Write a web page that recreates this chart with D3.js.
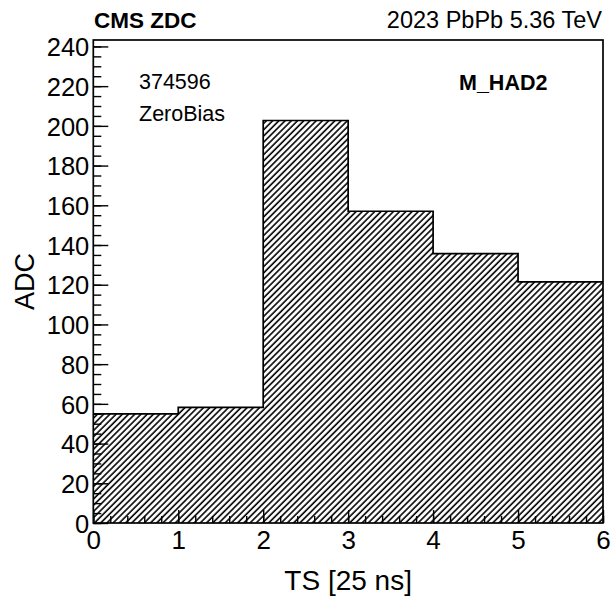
<!DOCTYPE html>
<html>
<head>
<meta charset="utf-8">
<script src="https://cdn.jsdelivr.net/npm/d3@7"></script>
<style>
  body { margin: 0; background: #fff; }
  svg text { font-family: "Liberation Sans", Arial, Helvetica, sans-serif; fill: #000; }
</style>
</head>
<body>
<svg id="chart" width="610" height="597"></svg>
<script>
// bin edges in TS units, and ADC content per bin
const binEdges = [0, 1, 2, 3, 4, 5, 6]
const adc = [55.0, 58.2, 202.7, 157.0, 135.7, 121.4]

const xTicks = [0, 1, 2, 3, 4, 5, 6]
const yTicks = [0, 20, 40, 60, 80, 100, 120, 140, 160, 180, 200, 220, 240]

const runNumber = "374596"
const trigger = "ZeroBias"
const channel = "M_HAD2"

let margin = {top: 40, right: 7, bottom: 74, left: 93.3}
const W = 610, H = 597

let svg = d3.select("#chart")

let x = d3.scaleLinear()
  .domain([0, 6])
  .range([margin.left, W - margin.right])

// ROOT-ish: max of the frame is 1.2 times the highest bin
let yMax = d3.max(adc) * 1.2
let y = d3.scaleLinear()
  .domain([0, yMax])
  .range([H - margin.bottom, margin.top])

// hatch pattern (ROOT fill style 3004)
svg.append("defs").append("pattern")
  .attr("id", "hatch")
  .attr("patternUnits", "userSpaceOnUse")
  .attr("width", 4.4)
  .attr("height", 10)
  .attr("patternTransform", "rotate(45)")
  .append("line")
  .attr("x1", 1).attr("y1", 0)
  .attr("x2", 1).attr("y2", 10)
  .attr("stroke", "#000")
  .attr("stroke-width", 1.6)

// histogram as a step area
let steps = []
adc.forEach((v, i) => {
  steps.push([binEdges[i], v])
  steps.push([binEdges[i + 1], v])
})

let area = d3.area()
  .x(d => x(d[0]))
  .y0(y(0))
  .y1(d => y(d[1]))

svg.append("path")
  .datum(steps)
  .attr("d", area)
  .attr("fill", "url(#hatch)")

let line = d3.line()
  .x(d => x(d[0]))
  .y(d => y(d[1]))

svg.append("path")
  .datum(steps)
  .attr("d", line)
  .attr("fill", "none")
  .attr("stroke", "#000")
  .attr("stroke-width", 1.7)

// minor ticks
let yMinor = d3.range(0, yMax, 5)
svg.append("g")
  .attr("transform", `translate(${margin.left},0)`)
  .call(d3.axisLeft(y).tickValues(yMinor).tickSize(-8).tickSizeOuter(0).tickFormat(""))
  .call(g => g.select(".domain").remove())
  .call(g => g.selectAll("line").attr("stroke-width", 1.4))

let xMinor = d3.range(0, 6.0001, 0.2)
svg.append("g")
  .attr("transform", `translate(0,${H - margin.bottom})`)
  .call(d3.axisBottom(x).tickValues(xMinor).tickSize(-7).tickSizeOuter(0).tickFormat(""))
  .call(g => g.select(".domain").remove())
  .call(g => g.selectAll("line").attr("stroke-width", 1.4))

// major ticks + labels
svg.append("g")
  .attr("transform", `translate(${margin.left},0)`)
  .call(d3.axisLeft(y).tickValues(yTicks).tickSize(-15).tickSizeOuter(0).tickPadding(4).tickFormat(d3.format("d")))
  .call(g => g.select(".domain").remove())
  .call(g => g.selectAll("line").attr("stroke-width", 1.4))
  .call(g => g.selectAll("text")
    .attr("font-size", 25.5)
    .attr("dy", "0.36em")
    .attr("font-family", "Liberation Sans, Arial, sans-serif"))

svg.append("g")
  .attr("transform", `translate(0,${H - margin.bottom})`)
  .call(d3.axisBottom(x).tickValues(xTicks).tickSize(-13).tickSizeOuter(0).tickPadding(8).tickFormat(d3.format("d")))
  .call(g => g.select(".domain").remove())
  .call(g => g.selectAll("line").attr("stroke-width", 1.4))
  .call(g => g.selectAll("text")
    .attr("font-size", 26)
    .attr("dy", "0.71em")
    .attr("font-family", "Liberation Sans, Arial, sans-serif"))

// frame
svg.append("rect")
  .attr("x", margin.left)
  .attr("y", margin.top)
  .attr("width", W - margin.right - margin.left)
  .attr("height", H - margin.bottom - margin.top)
  .attr("fill", "none")
  .attr("stroke", "#000")
  .attr("stroke-width", 1.7)

// axis titles
svg.append("text")
  .attr("x", (margin.left + W - margin.right) / 2)
  .attr("y", 590)
  .attr("text-anchor", "middle")
  .attr("font-size", 28)
  .text("TS [25 ns]")

svg.append("text")
  .attr("transform", `translate(33.5,${(margin.top + H - margin.bottom) / 2}) rotate(-90)`)
  .attr("text-anchor", "middle")
  .attr("font-size", 27)
  .text("ADC")

// header
svg.append("text")
  .attr("x", 94)
  .attr("y", 28)
  .attr("font-size", 22.5)
  .attr("font-weight", "bold")
  .text("CMS ZDC")

svg.append("text")
  .attr("x", 602)
  .attr("y", 28.3)
  .attr("text-anchor", "end")
  .attr("font-size", 23.5)
  .text("2023 PbPb 5.36 TeV")

// labels inside the frame
svg.append("text")
  .attr("x", 139)
  .attr("y", 89.3)
  .attr("font-size", 21.5)
  .text(runNumber)

svg.append("text")
  .attr("x", 139)
  .attr("y", 120.7)
  .attr("font-size", 21.5)
  .text(trigger)

svg.append("text")
  .attr("x", 459)
  .attr("y", 90)
  .attr("font-size", 21.5)
  .attr("font-weight", "bold")
  .text(channel)
</script>
</body>
</html>
